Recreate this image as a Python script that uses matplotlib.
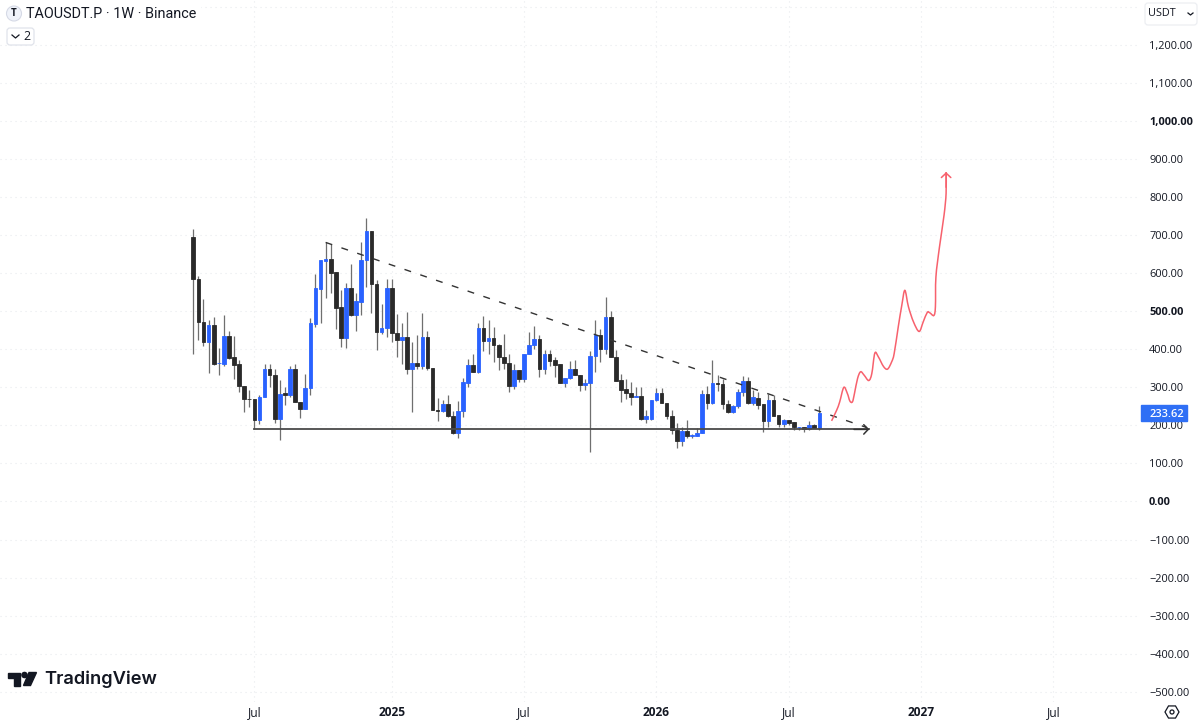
import numpy as np
import matplotlib
matplotlib.use("Agg")
import matplotlib.pyplot as plt
from matplotlib.patches import Circle, FancyBboxPatch, PathPatch, Polygon, Rectangle, RegularPolygon
from matplotlib.path import Path

# weekly candles
opens = [696, 586, 472, 419, 464, 364, 362, 434, 381, 361, 304, 270, 270, 215, 275, 349, 333, 216, 284, 279,
         347, 261, 243, 299, 466, 559, 633, 638, 603, 510, 431, 560, 489, 525, 635, 711, 573, 446, 456, 562,
         443, 424, 432, 347, 365, 355, 432, 352, 241, 238, 255, 226, 180, 238, 311, 358, 340, 457, 422, 430,
         411, 381, 365, 303, 346, 323, 388, 411, 427, 348, 387, 372, 361, 312, 324, 349, 333, 305, 312, 382,
         437, 400, 485, 381, 320, 296, 286, 275, 277, 218, 218, 266, 286, 260, 224, 189, 159, 184, 171, 173,
         180, 282, 259, 312, 308, 257, 235, 250, 289, 318, 260, 273, 255, 211, 268, 228, 203, 215, 208, 195,
         197, 190, 201, 193]
closes = [584, 471, 419, 464, 361, 365, 434, 378, 358, 303, 269, 269, 213, 275, 349, 333, 216, 283, 279, 347,
          261, 243, 299, 468, 560, 634, 638, 601, 509, 431, 560, 489, 526, 636, 711, 572, 446, 457, 562, 443,
          424, 432, 347, 365, 356, 432, 351, 240, 239, 255, 225, 180, 239, 313, 358, 340, 457, 422, 429, 411,
          380, 364, 303, 345, 323, 389, 411, 427, 348, 387, 369, 359, 312, 325, 349, 332, 305, 312, 382, 437,
          400, 485, 380, 318, 294, 285, 275, 277, 218, 224, 266, 286, 259, 224, 187, 159, 184, 171, 176, 180,
          282, 259, 312, 308, 255, 235, 250, 289, 318, 260, 274, 254, 211, 268, 226, 203, 215, 206, 196, 197,
          190, 201, 194, 233.62]
highs = [716, 593, 531, 476, 485, 404, 490, 449, 434, 371, 304, 292, 270, 279, 361, 362, 347, 320, 301, 355,
         362, 261, 334, 483, 597, 634, 681, 676, 603, 555, 575, 625, 548, 681, 746, 711, 583, 518, 586, 586,
         492, 470, 497, 419, 437, 496, 447, 352, 273, 266, 279, 238, 263, 325, 374, 387, 469, 487, 476, 459,
         413, 441, 387, 362, 346, 389, 446, 461, 437, 397, 397, 380, 361, 325, 369, 371, 333, 323, 396, 476,
         454, 538, 501, 397, 336, 323, 314, 301, 301, 240, 268, 299, 299, 260, 241, 206, 197, 215, 178, 194,
         294, 303, 373, 332, 323, 266, 253, 296, 331, 327, 292, 288, 255, 283, 281, 228, 218, 215, 208, 197,
         197, 211, 203, 250]
lows = [389, 425, 408, 339, 358, 333, 356, 375, 323, 288, 235, 248, 190, 204, 275, 301, 206, 162, 253, 275,
        261, 220, 243, 281, 459, 470, 536, 547, 454, 406, 404, 487, 448, 489, 564, 496, 399, 439, 432, 418,
        380, 361, 336, 235, 349, 347, 345, 240, 211, 235, 222, 178, 167, 222, 301, 340, 339, 395, 387, 367,
        345, 347, 288, 296, 314, 314, 387, 401, 327, 334, 355, 327, 312, 301, 321, 332, 290, 294, 130, 340,
        367, 387, 380, 318, 261, 270, 254, 275, 213, 206, 215, 264, 259, 218, 178, 141, 145, 168, 168, 171,
        180, 242, 257, 290, 244, 233, 233, 247, 276, 257, 253, 244, 182, 197, 224, 197, 196, 200, 187, 187,
        182, 188, 192, 187]

# drawn lines: (week, price)
base_line_weeks = [12, 132.8]
base_line_prices = [189.5, 189.5]
trend_line_weeks = [26, 132.4]
trend_line_prices = [681, 194]

red_weeks = [125.4, 126.4, 127.0, 127.8, 128.5, 129.0, 129.5, 129.9, 130.5, 131.1, 131.8, 132.7, 133.3, 133.9,
             134.6, 135.6, 136.4, 137.2, 137.7, 138.5, 139.2, 139.8, 140.5, 141.5, 142.6, 143.4, 144.2, 144.7,
             145.5, 145.8, 145.9, 146.6, 147.5, 147.9, 147.9]
red_prices = [212, 240, 262, 300, 284, 264, 262, 284, 323, 341, 332, 318, 336, 390,
              380, 355, 348, 367, 389, 459, 516, 555, 512, 472, 447, 472, 497, 496,
              489, 512, 590, 669, 753, 810, 866]

y_ticks = [1200, 1100, 1000, 900, 800, 700, 600, 500, 400, 300, 200, 100, 0,
           -100, -200, -300, -400, -500]
hidden_grid = [1300]
strong_ticks = [1000, 500, 0]
x_ticks = [12, 39, 65, 91, 117, 143, 169]
x_labels = ["Jul", "2025", "Jul", "2026", "Jul", "2027", "Jul"]
bold_x = ["2025", "2026", "2027"]
last_price = 233.62

BLUE = "#2962ff"
DARK = "#2a2a2a"
GRID = "#e8eaee"
TEXT = "#131722"
RED = "#f7616d"

plt.rcParams["font.family"] = "Open Sans"

fig = plt.figure(figsize=(11.99, 7.23), dpi=100, facecolor="white")
ax = fig.add_axes([0, 21 / 723, 1139 / 1199, 702 / 723])
ax.set_xlim(-37.98, 185.8)
ax.set_ylim(-527.1, 1318.3)
for s in ax.spines.values():
    s.set_visible(False)

ax.set_xticks(x_ticks)
ax.set_xticklabels(x_labels)
ax.set_yticks(y_ticks + hidden_grid)
ax.set_yticklabels([])
ax.tick_params(length=0)
ax.tick_params(axis="x", pad=3, labelsize=8.6, labelcolor=TEXT)
for lab in ax.get_xticklabels():
    if lab.get_text() in bold_x:
        lab.set_fontweight("bold")
ax.grid(True, color=GRID, linestyle=(0, (1, 3.5)), linewidth=0.8)
ax.set_axisbelow(True)

# candles
weeks = np.arange(len(opens))
o = np.array(opens)
c = np.array(closes)
up = c >= o
ax.vlines(weeks, lows, highs, color="#6f6f6f", linewidth=0.9, zorder=2)
ax.bar(weeks, np.abs(c - o), bottom=np.minimum(o, c), width=0.72,
       color=[BLUE if u else DARK for u in up], edgecolor=[BLUE if u else DARK for u in up],
       linewidth=0.6, zorder=3)

# drawn lines
ax.plot(base_line_weeks, base_line_prices, color="#4a4a4a", linewidth=1.3, zorder=4)
ax.plot(trend_line_weeks, trend_line_prices, color="#333333", linewidth=1.0, linestyle=(0, (5, 7)), zorder=4)
ax.annotate("", xy=(base_line_weeks[1], 189.5), xytext=(base_line_weeks[1] - 3, 189.5),
            arrowprops=dict(arrowstyle="->,head_length=0.32,head_width=0.34", color="#333333", lw=1.1,
                            mutation_scale=10, shrinkA=0, shrinkB=0), zorder=5)


def smooth_path(xs, ys):
    # catmull-rom through the read points, as bezier segments
    pts = np.column_stack([xs, ys]).astype(float)
    verts = [pts[0]]
    codes = [Path.MOVETO]
    for i in range(len(pts) - 1):
        p0 = pts[max(i - 1, 0)]
        p1 = pts[i]
        p2 = pts[i + 1]
        p3 = pts[min(i + 2, len(pts) - 1)]
        verts += [p1 + (p2 - p0) / 6, p2 - (p3 - p1) / 6, p2]
        codes += [Path.CURVE4] * 3
    return Path(verts, codes)


ax.add_patch(PathPatch(smooth_path(red_weeks, red_prices), fill=False, edgecolor=RED, linewidth=1.1, zorder=5))
ax.annotate("", xy=(red_weeks[-1], red_prices[-1]), xytext=(red_weeks[-1], red_prices[-1] - 40),
            arrowprops=dict(arrowstyle="->,head_length=0.32,head_width=0.34", color=RED, lw=1.1,
                            mutation_scale=10, shrinkA=0, shrinkB=0), zorder=5)

# pixel overlay for the price scale and the chrome
ui = fig.add_axes([0, 0, 1, 1], facecolor="none")
ui.set_xlim(0, 1199)
ui.set_ylim(723, 0)
ui.axis("off")


def price_y(p):
    # price scale shares the pixel grid of the chart
    return 723 - ax.transData.transform((0, p))[1]


for p in y_ticks:
    lbl = f"{p:,.2f}".replace("-", "\u2212")
    strong = p in strong_ticks
    ui.text(1149, price_y(p), lbl, ha="left", va="center_baseline", fontsize=7.9, color=TEXT,
            fontweight="bold" if strong else "normal")

# last price tag
tag_y = price_y(last_price)
ui.add_patch(Rectangle((1141, tag_y - 8), 46, 16, color="#2f6ff5", zorder=5))
ui.text(1149, tag_y, f"{last_price:.2f}", ha="left", va="center_baseline", fontsize=7.9, color="white",
        fontweight="semibold", zorder=6)

# header
ui.add_patch(Rectangle((0, 0), 200, 25, color="white"))
ui.add_patch(Circle((14, 13.5), 7.5, facecolor="#f0f3fa", edgecolor="#d6dae6", linewidth=0.8))
ui.text(14, 13.5, "T", ha="center", va="center", fontsize=7, fontweight="bold", color=TEXT)
ui.text(26, 13.5, "TAOUSDT.P \u00b7 1W \u00b7 Binance", ha="left", va="center", fontsize=10.4,
        family="Roboto", color=TEXT)
ui.add_patch(FancyBboxPatch((7, 28), 27, 17, boxstyle="round,pad=0,rounding_size=3",
                            facecolor="white", edgecolor="#e0e3eb", linewidth=0.9))
ui.plot([12, 15.5, 19], [35, 38, 35], color=TEXT, linewidth=0.9)
ui.text(26.5, 36, "2", ha="center", va="center", fontsize=8.8, color=TEXT)

ui.add_patch(FancyBboxPatch((1145, 3), 52, 22, boxstyle="round,pad=0,rounding_size=3",
                            facecolor="white", edgecolor="#eceef2", linewidth=0.9))
ui.text(1148, 14, "USDT", ha="left", va="center", fontsize=7.8, color=TEXT)
ui.plot([1188, 1190.5, 1193], [13, 15, 13], color=TEXT, linewidth=0.9)

# settings icon
ui.add_patch(RegularPolygon((1172, 712), 6, radius=7, orientation=np.pi / 2, fill=False, edgecolor=TEXT, linewidth=0.9))
ui.add_patch(Circle((1172, 712), 2, fill=False, edgecolor=TEXT, linewidth=0.9))

# logo
ui.add_patch(Polygon([(8, 672.5), (20, 672.5), (20, 685.5), (14, 685.5), (14, 678), (8, 678)], color="#131722"))
ui.add_patch(Circle((24.5, 675), 2.6, color="#131722"))
ui.add_patch(Polygon([(29, 672.5), (36.5, 672.5), (30.5, 685.5), (23.5, 685.5)], color="#131722"))
ui.text(44.5, 679.5, "TradingView", ha="left", va="center", fontsize=13.2, fontweight="semibold",
        family="Inter", color="#131722")

fig.savefig("out.png", dpi=100, facecolor="white")
